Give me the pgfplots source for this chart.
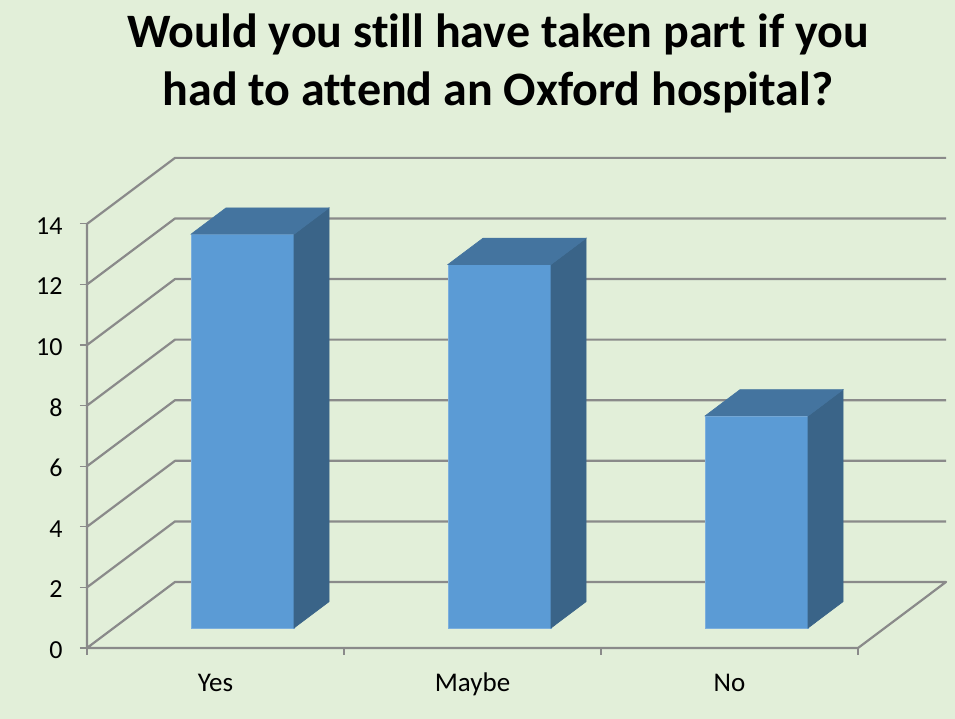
\documentclass[border=0pt]{standalone}
\usepackage{fontspec}
\setmainfont[Ligatures=NoCommon]{Carlito}
\usepackage{pgfplots}
\pgfplotsset{compat=1.18}
\definecolor{bg}{HTML}{E2EFD9}
\definecolor{grid3d}{HTML}{8A8A8A}
\definecolor{front}{HTML}{5B9BD5}
\definecolor{topface}{HTML}{44749F}
\definecolor{sideface}{HTML}{3A6488}
\begin{document}
\begin{tikzpicture}[x=1pt,y=1pt]
\fill[bg] (0,0) rectangle (955,719);
\begin{axis}[
    at={(87pt,71pt)}, anchor=south west,
    scale only axis, width=859pt, height=490.1pt,
    xmin=-0.5, xmax=2.8424,
    ymin=0, ymax=16.179,
    clip=false,
    axis line style={draw=none},
    xtick={0,1,2}, xticklabels={Yes,Maybe,No},
    ytick={0,2,...,14},
    minor xtick={-0.5,0.5,1.5,2.5},
    minor ytick={0,2,...,14},
    tick align=outside,
    xtick pos=bottom, ytick pos=left,
    major tick length=0pt, minor tick length=7pt,
    minor tick style={draw=grid3d, line width=1.2pt},
    /pgf/number format/assume math mode=true,
    xticklabel style={font=\fontsize{27}{30}\selectfont, black, anchor=base, yshift=-44pt},
    yticklabel style={font=\fontsize{26}{30}\selectfont, black, anchor=east, xshift=-21pt, yshift=-2pt},
    title={Would you still have taken part if you\\had to attend an Oxford hospital?},
    title style={at={(411pt,579pt)}, anchor=center, align=center,
        font=\fontsize{48}{58}\selectfont\bfseries},
]

% walls and floor
\addplot[grid3d, line width=2.2pt, line join=round, unbounded coords=jump] table {
x y
-0.5 0
-0.1576 2.179
2.8424 2.179
2.5 0
-0.5 0
nan nan
-0.5 2
-0.1576 4.179
2.8424 4.179
nan nan
-0.5 4
-0.1576 6.179
2.8424 6.179
nan nan
-0.5 6
-0.1576 8.179
2.8424 8.179
nan nan
-0.5 8
-0.1576 10.179
2.8424 10.179
nan nan
-0.5 10
-0.1576 12.179
2.8424 12.179
nan nan
-0.5 12
-0.1576 14.179
2.8424 14.179
nan nan
-0.5 14
-0.1576 16.179
2.8424 16.179
nan nan
-0.5 0
-0.5 14
};

% bars, shifted onto the floor (pgfplots applies the scope shift twice here)
\begin{scope}[xshift=13.5pt, yshift=10pt]
\addplot[ybar, bar width=103pt, bar shift=0pt, fill=front, draw=front!80!white, line width=0.6pt]
    coordinates {(0,13)(1,12)(2,7)};

\addplot[fill=sideface, draw=sideface, line width=0.6pt] coordinates {(0.2004,0)(0.3366,0.868)(0.3366,13.868)(0.2004,13)} --cycle;
\addplot[fill=topface, draw=topface, line width=0.6pt] coordinates {(-0.2004,13)(0.2004,13)(0.3366,13.868)(-0.0642,13.868)} --cycle;

\addplot[fill=sideface, draw=sideface, line width=0.6pt] coordinates {(1.2004,0)(1.3366,0.868)(1.3366,12.868)(1.2004,12)} --cycle;
\addplot[fill=topface, draw=topface, line width=0.6pt] coordinates {(0.7996,12)(1.2004,12)(1.3366,12.868)(0.9358,12.868)} --cycle;

\addplot[fill=sideface, draw=sideface, line width=0.6pt] coordinates {(2.2004,0)(2.3366,0.868)(2.3366,7.868)(2.2004,7)} --cycle;
\addplot[fill=topface, draw=topface, line width=0.6pt] coordinates {(1.7996,7)(2.2004,7)(2.3366,7.868)(1.9358,7.868)} --cycle;
\end{scope}
\end{axis}
\end{tikzpicture}
\end{document}
